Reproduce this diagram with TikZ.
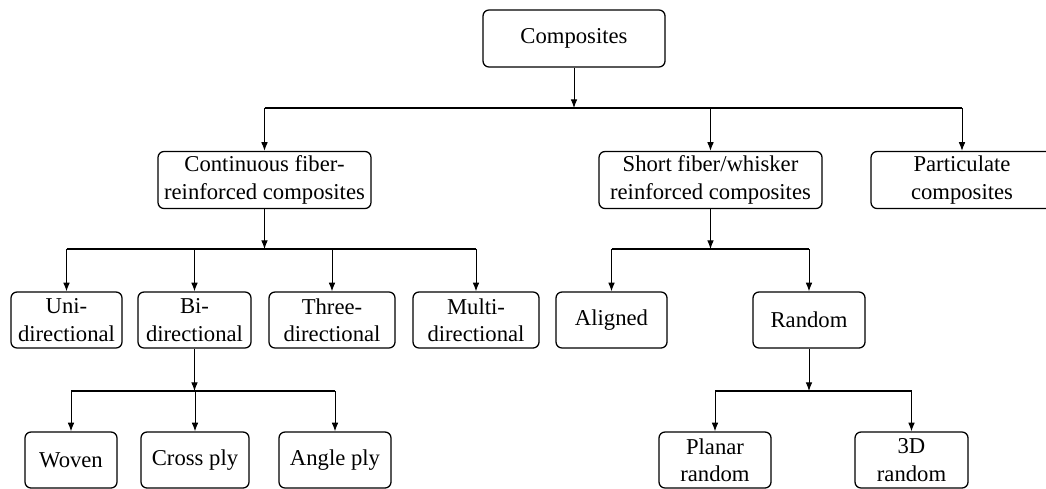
\documentclass[tikz,border=0pt]{standalone}
\usepackage{fontspec}
\setmainfont{Liberation Serif}
\usetikzlibrary{arrows.meta}
\begin{document}
\begin{tikzpicture}[x=0.75pt,y=-0.75pt,
  bx/.style args={#1/#2}{draw, fill=white, rounded corners=4.5pt, line width=0.95pt,
    inner sep=0pt, align=center, minimum width=#1*0.75pt, minimum height=#2*0.75pt,
    font=\fontsize{17}{20.5}\selectfont},
  arr/.style={line width=0.75pt, -{Latex[length=6.5pt,width=5pt]}},
  barline/.style={line width=1.4pt}]
\useasboundingbox (0,0) rectangle (1046,489);
\clip (0,0) rectangle (1046,489);
% level 0
\node[bx=182/57] (comp) at (574,38.5) {Composites};
% level 1
\node[bx=213/57] (cont) at (264.5,180) {Continuous fiber-\\reinforced composites};
\node[bx=223/57] (short) at (710.5,180) {Short fiber/whisker\\reinforced composites};
\node[bx=182/57] (part) at (962,180) {Particulate\\composites};
% level 2
\node[bx=111/56] (uni) at (66.5,320) {Uni-\\directional};
\node[bx=113/56] (bi) at (194.5,320) {Bi-\\directional};
\node[bx=126/56] (three) at (332,320) {Three-\\directional};
\node[bx=126/56] (multi) at (476,320) {Multi-\\directional};
\node[bx=111/56] (aligned) at (611.5,320) {Aligned};
\node[bx=112/56] (random) at (809,320) {Random};
% level 3
\node[bx=92/56] (woven) at (71,460) {Woven};
\node[bx=108/56] (cross) at (195,460) {Cross ply};
\node[bx=112/56] (angle) at (335,460) {Angle ply};
\node[bx=112/56] (planar) at (715,460) {Planar\\random};
\node[bx=113/56] (d3) at (911.5,460) {3D\\random};
% bars
\coordinate (b0) at (0,108);
\coordinate (b1) at (0,249);
\coordinate (b2) at (0,391);
% composites
\draw[arr] (comp.south) -- (comp.south |- b0);
\draw[barline] (cont.north |- b0) -- (part.north |- b0);
\foreach \n in {cont,short,part} \draw[arr] (\n.north |- b0) -- (\n.north);
% continuous
\draw[arr] (cont.south) -- (cont.south |- b1);
\draw[barline] (uni.north |- b1) -- (multi.north |- b1);
\foreach \n in {uni,bi,three,multi} \draw[arr] (\n.north |- b1) -- (\n.north);
% short fiber
\draw[arr] (short.south) -- (short.south |- b1);
\draw[barline] (aligned.north |- b1) -- (random.north |- b1);
\foreach \n in {aligned,random} \draw[arr] (\n.north |- b1) -- (\n.north);
% bi-directional
\draw[arr] (bi.south) -- (bi.south |- b2);
\draw[barline] (woven.north |- b2) -- (angle.north |- b2);
\foreach \n in {woven,cross,angle} \draw[arr] (\n.north |- b2) -- (\n.north);
% random
\draw[arr] (random.south) -- (random.south |- b2);
\draw[barline] (planar.north |- b2) -- (d3.north |- b2);
\foreach \n in {planar,d3} \draw[arr] (\n.north |- b2) -- (\n.north);
\end{tikzpicture}
\end{document}
